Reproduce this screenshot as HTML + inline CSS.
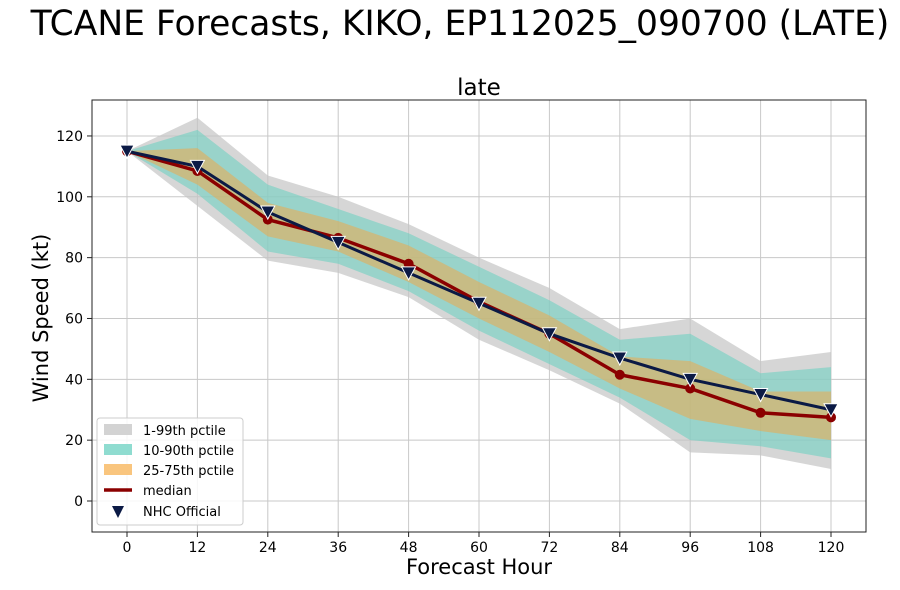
<!DOCTYPE html>
<html><head><meta charset="utf-8"><style>
body{margin:0;background:#fff;font-family:"Liberation Sans","DejaVu Sans",sans-serif}
svg text{font-family:"DejaVu Sans","Liberation Sans",sans-serif}
</style></head><body>
<svg id="c" width="900" height="585">
<text x="460" y="35" font-size="34.5" text-anchor="middle">TCANE Forecasts, KIKO, EP112025_090700 (LATE)</text>
<text x="479" y="95" font-size="23" text-anchor="middle">late</text>
<text x="0" y="0" font-size="21" text-anchor="middle" transform="translate(48,318) rotate(-90)">Wind Speed (kt)</text>
<text x="479" y="574" font-size="21" text-anchor="middle">Forecast Hour</text>
<g id="grid"></g><g id="bands"></g><g id="lines"></g>
<rect x="92" y="100" width="774" height="432" fill="none" stroke="#222" stroke-width="1"/>
<g id="ticks"></g>
<g>
<rect x="97" y="418" width="146" height="107" rx="3" fill="#fff" fill-opacity="0.85" stroke="#ccc"/>
<rect x="104" y="424" width="28" height="11" fill="#d3d3d3"/>
<text x="143" y="435" font-size="13">1-99th pctile</text>
<rect x="104" y="444" width="28" height="11" fill="#8fdcd0"/>
<text x="143" y="455" font-size="13">10-90th pctile</text>
<rect x="104" y="464" width="28" height="11" fill="#f9c57e"/>
<text x="143" y="475" font-size="13">25-75th pctile</text>
<line x1="104" y1="490" x2="132" y2="490" stroke="#8b0000" stroke-width="3.5"/>
<text x="143" y="495" font-size="13">median</text>
<path d="M112,506 L124,506 L118,518 Z" fill="#0b1a45"/>
<text x="143" y="516" font-size="13">NHC Official</text>
</g>
</svg>
<script>
const hours=[0,12,24,36,48,60,72,84,96,108,120];
const p1=[115,97,79,75,67,53,43,32,16,15,10.5];
const p99=[115,126,107,100,91,80,70,56.5,60,46,49];
const p10=[115,101,82,78,69,56,45,34,20,18,14];
const p90=[115,122,104,96,88,77,66,53,55,42,44];
const p25=[115,104,87,82,72,60,49,37,27,23,20];
const p75=[115,116,98,92,84,72,61,47.5,46,36,36];
const median=[115,108.5,92.5,86.5,78,65.5,55,41.5,37,29,27.5];
const nhc=[115,110,95,85,75,65,55,47,40,35,30];
const yTicks=[0,20,40,60,80,100,120];
const xTicks=[0,12,24,36,48,60,72,84,96,108,120];
const NS="http://www.w3.org/2000/svg";
const X=h=>127+h*(704/120);
const Y=v=>501-v*3.042;
function mk(t,a,p){const e=document.createElementNS(NS,t);for(const k in a)e.setAttribute(k,a[k]);document.getElementById(p).appendChild(e);return e;}
yTicks.forEach(v=>{
 const l=mk('line',{x1:92,x2:866,y1:Y(v),y2:Y(v),stroke:'#c8c8c8','stroke-width':1},'grid');
 
 
 const tk=mk('line',{x1:87,x2:92,y1:Y(v),y2:Y(v),stroke:'#222'},'ticks');
 
 
 const t=mk('text',{x:83,y:Y(v)+5,'font-size':14,'text-anchor':'end'},'ticks');t.textContent=v;
 
 
});
xTicks.forEach(h=>{
 const l=mk('line',{x1:X(h),x2:X(h),y1:100,y2:532,stroke:'#c8c8c8','stroke-width':1},'grid');
 
 
 const tk=mk('line',{x1:X(h),x2:X(h),y1:532,y2:537,stroke:'#222'},'ticks');
 
 
 const t=mk('text',{x:X(h),y:552,'font-size':14,'text-anchor':'middle'},'ticks');t.textContent=h;
 
 
});
function band(lo,hi,fill,op,name){
 let d=hours.map((h,i)=>(i?'L':'M')+X(h)+','+Y(hi[i])).join(' ');
 for(let i=hours.length-1;i>=0;i--)d+=' L'+X(hours[i])+','+Y(lo[i]);
 const p=mk('path',{d:d+' Z',fill:fill,'fill-opacity':op},'bands');
 
 
}
band(p1,p99,'#c4c4c4',0.7,'band-p1-99');
band(p10,p90,'#6fd0c2',0.6,'band-p10-90');
band(p25,p75,'#f5a540',0.5,'band-p25-75');
const ml=mk('polyline',{points:hours.map((h,i)=>X(h)+','+Y(median[i])).join(' '),fill:'none',stroke:'#8b0000','stroke-width':3.5},'lines');


hours.forEach((h,i)=>{const c=mk('circle',{cx:X(h),cy:Y(median[i]),r:5,fill:'#8b0000'},'lines');
 
 });
const nl=mk('polyline',{points:hours.map((h,i)=>X(h)+','+Y(nhc[i])).join(' '),fill:'none',stroke:'#0b1a45','stroke-width':3},'lines');


hours.forEach((h,i)=>{const x=X(h),y=Y(nhc[i]);
 const m=mk('path',{d:`M${x-7},${y-6} L${x+7},${y-6} L${x},${y+7} Z`,fill:'#0b1a45',stroke:'#fff','stroke-width':1},'lines');
 
 });
</script>
</body></html>
